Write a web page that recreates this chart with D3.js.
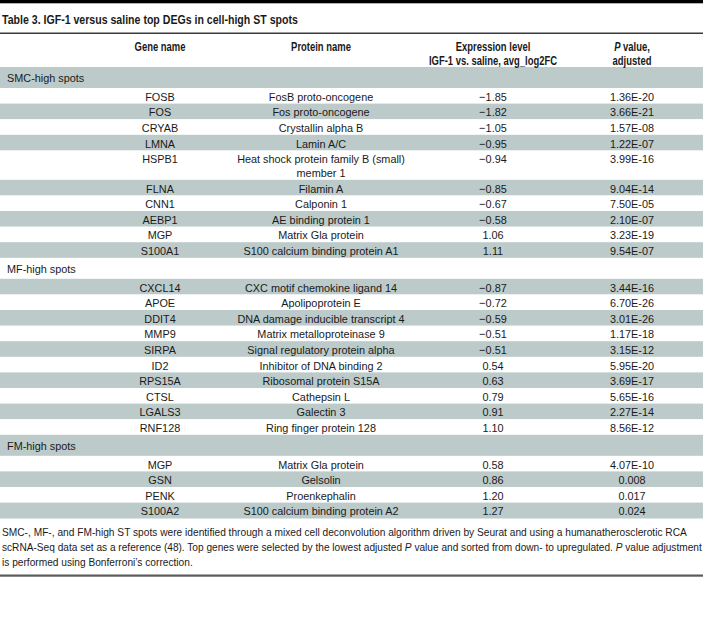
<!DOCTYPE html>
<html><head><meta charset="utf-8">
<script src="https://cdn.jsdelivr.net/npm/d3@7"></script>
<style>body{margin:0;background:#fff} svg{display:block}</style>
</head><body><div id="c"></div>
<script>
const title = "Table 3. IGF-1 versus saline top DEGs in cell-high ST spots";
const headers = [["Gene name"],["Protein name"],["Expression level","IGF-1 vs. saline, avg_log2FC"],["*P* value,","adjusted"]];
const groups = ["SMC-high spots","MF-high spots","FM-high spots"];

const smcGenes = ["FOSB","FOS","CRYAB","LMNA","HSPB1","FLNA","CNN1","AEBP1","MGP","S100A1"];
const smcProteins = ["FosB proto-oncogene","Fos proto-oncogene","Crystallin alpha B","Lamin A/C","Heat shock protein family B (small) member 1","Filamin A","Calponin 1","AE binding protein 1","Matrix Gla protein","S100 calcium binding protein A1"];
const smcLog2FC = [-1.85,-1.82,-1.05,-0.95,-0.94,-0.85,-0.67,-0.58,1.06,1.11];
const smcPadj = ["1.36E-20","3.66E-21","1.57E-08","1.22E-07","3.99E-16","9.04E-14","7.50E-05","2.10E-07","3.23E-19","9.54E-07"];

const mfGenes = ["CXCL14","APOE","DDIT4","MMP9","SIRPA","ID2","RPS15A","CTSL","LGALS3","RNF128"];
const mfProteins = ["CXC motif chemokine ligand 14","Apolipoprotein E","DNA damage inducible transcript 4","Matrix metalloproteinase 9","Signal regulatory protein alpha","Inhibitor of DNA binding 2","Ribosomal protein S15A","Cathepsin L","Galectin 3","Ring finger protein 128"];
const mfLog2FC = [-0.87,-0.72,-0.59,-0.51,-0.51,0.54,0.63,0.79,0.91,1.10];
const mfPadj = ["3.44E-16","6.70E-26","3.01E-26","1.17E-18","3.15E-12","5.95E-20","3.69E-17","5.65E-16","2.27E-14","8.56E-12"];

const fmGenes = ["MGP","GSN","PENK","S100A2"];
const fmProteins = ["Matrix Gla protein","Gelsolin","Proenkephalin","S100 calcium binding protein A2"];
const fmLog2FC = [0.58,0.86,1.20,1.27];
const fmPadj = ["4.07E-10","0.008","0.017","0.024"];

const footnote = [
 "SMC-, MF-, and FM-high ST spots were identified through a mixed cell deconvolution algorithm driven by Seurat and using a humanatherosclerotic RCA",
 "scRNA-Seq data set as a reference (48). Top genes were selected by the lowest adjusted *P* value and sorted from down- to upregulated. *P* value adjustment",
 "is performed using Bonferroni\u2019s correction."
];

// ---- layout ----
const W = 703, H = 626;
const FONT = "'Liberation Sans','Roboto',sans-serif";
const INK = "#1a1a1a", BAND = "#bccaca";
const cols = ["gene","protein","fc","p"];
const x = d3.scaleOrdinal().domain(cols).range([160, 321, 493, 632]);
const fmtFC = d3.format(".2f");
const FS = 11.8, HFS = 12.2, TFS = 13.6, WRAP = 190, LINE = 13.8;

const svg = d3.select("#c").append("svg").attr("width", W).attr("height", H)
  .style("font-family", FONT).style("fill", INK);

function addSegs(textSel, str){
  const parts = str.split("*");
  parts.forEach((p,i)=>{ if(p.length) textSel.append("tspan").text(p).style("font-style", i%2 ? "italic" : null); });
}
function measure(str, size, weight){
  const t = svg.append("text").attr("font-size",size).attr("font-weight",weight||null);
  addSegs(t, str);
  const w = t.node().getComputedTextLength(); t.remove(); return w;
}
// horizontal compression factors so the installed font matches the narrow face
const kBody = 168 / measure("Heat shock protein family B (small)", FS);
const kHead = 128 / measure("IGF-1 vs. saline, avg_log2FC", HFS, "bold");
const kTitle = 296 / measure(title, TFS, "bold");
const tf = (px,py,k)=>`translate(${px},${py}) scale(${k},1)`;

// top rules and title
svg.append("rect").attr("x",0).attr("y",0).attr("width",W).attr("height",3.3).attr("fill","#000");
svg.append("text").attr("transform",tf(2,24.3,kTitle)).attr("font-size",TFS).attr("font-weight","bold").text(title);
svg.append("rect").attr("x",0).attr("y",32.5).attr("width",W).attr("height",1.5).attr("fill","#3a3a3a");

// rows
const sets = [
  [smcGenes, smcProteins, smcLog2FC, smcPadj],
  [mfGenes, mfProteins, mfLog2FC, mfPadj],
  [fmGenes, fmProteins, fmLog2FC, fmPadj]
];
const rows = [];
groups.forEach((g,gi)=>{
  rows.push({type:"group", label:g});
  const [gs,ps,fs,pv] = sets[gi];
  gs.forEach((gene,i)=> rows.push({type:"data", gene, protein:ps[i], fc:fs[i], p:pv[i]}));
});

function wrap(str){
  const words = str.split(" "); const lines=[]; let cur="";
  words.forEach(w=>{
    const test = cur ? cur+" "+w : w;
    if (measure(test, FS)*kBody > WRAP && cur){ lines.push(cur); cur=w; } else cur=test;
  });
  lines.push(cur); return lines;
}

let y = 67;
rows.forEach((r,i)=>{
  r.lines = r.type==="data" ? wrap(r.protein) : [r.label];
  r.h = r.type==="group" ? 21 : 15.6 + (r.lines.length-1)*LINE;
  r.y = y; y += r.h;
  r.fill = i%2===0 ? BAND : "#fff";
});

const g = svg.append("g");
g.selectAll("rect.band").data(rows).join("rect").attr("class","band")
  .attr("x",0).attr("y",d=>d.y).attr("width",W).attr("height",d=>d.h+0.3).attr("fill",d=>d.fill);

// headers (drawn after bands so nothing covers descenders)
headers.forEach((h,ci)=>{
  h.forEach((line,li)=>{
    const t = svg.append("text").attr("transform", tf(x(cols[ci]), 50.8 + li*14, kHead))
      .attr("text-anchor","middle").attr("font-size",HFS).attr("font-weight","bold");
    addSegs(t, line);
  });
});

const grp = rows.filter(r=>r.type==="group");
g.selectAll("text.grp").data(grp).join("text").attr("class","grp")
  .attr("transform",d=>tf(7,d.y+15.3,kBody)).attr("font-size",FS).text(d=>d.label);

const dat = rows.filter(r=>r.type==="data");
const base = d=>d.y+12.7;
function colText(cls, col, acc){
  g.selectAll("text."+cls).data(dat).join("text").attr("class",cls)
    .attr("transform",d=>tf(x(col), base(d), kBody)).attr("text-anchor","middle").attr("font-size",FS)
    .each(function(d){
      const v = acc(d);
      const lines = Array.isArray(v) ? v : [v];
      d3.select(this).selectAll("tspan").data(lines).join("tspan")
        .attr("x",0).attr("dy",(l,i)=>i?LINE:0).text(l=>l);
    });
}
colText("gene","gene",d=>d.gene);
colText("prot","protein",d=>d.lines);
colText("fc","fc",d=>fmtFC(d.fc));
colText("pv","p",d=>d.p);

// footnote
const fy = y + 17.7;
const footW = [685, 700, 191];
footnote.forEach((line,i)=>{
  const k = footW[i] / measure(line, FS);
  const t = svg.append("text").attr("transform",tf(2, fy + i*15, k)).attr("font-size",FS);
  addSegs(t, line);
});
svg.append("rect").attr("x",0).attr("y",fy + 2*15 + 8.6).attr("width",W).attr("height",2.2).attr("fill","#5a5a5a");
</script></body></html>
